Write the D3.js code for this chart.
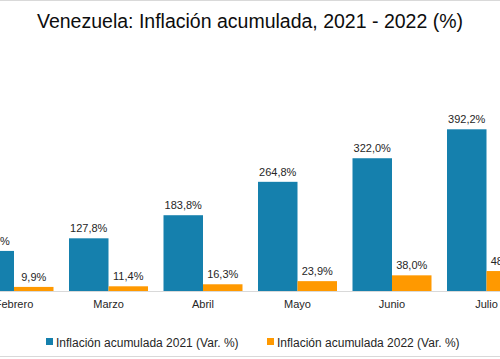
<!DOCTYPE html>
<html>
<head>
<meta charset="utf-8">
<script src="https://cdn.jsdelivr.net/npm/d3@7"></script>
<style>
  html, body { margin: 0; padding: 0; background: #fff; }
  svg { display: block; font-family: "Liberation Sans", Arial, sans-serif; }
</style>
</head>
<body>
<svg id="chart" width="500" height="359"></svg>
<script>
const categories = ["Febrero", "Marzo", "Abril", "Mayo", "Junio", "Julio"];
const series2021 = [97.2, 127.8, 183.8, 264.8, 322.0, 392.2];
const series2022 = [9.9, 11.4, 16.3, 23.9, 38.0, 48.4];
const seriesNames = ["Inflación acumulada 2021 (Var. %)", "Inflación acumulada 2022 (Var. %)"];
const seriesColors = ["#1580ad", "#ff9900"];
const titleText = "Venezuela: Inflación acumulada, 2021 - 2022 (%)";

const svg = d3.select("#chart");
const W = 500, H = 359;

// borders
svg.append("line").attr("x1", 0).attr("x2", W).attr("y1", 0.5).attr("y2", 0.5)
  .attr("stroke", "#d9d9d9").attr("stroke-width", 1);
svg.append("line").attr("x1", 0).attr("x2", W).attr("y1", 356.5).attr("y2", 356.5)
  .attr("stroke", "#d9d9d9").attr("stroke-width", 1);

// title
svg.append("text").attr("x", 250).attr("y", 28).attr("text-anchor", "middle")
  .attr("font-size", 19.5).attr("fill", "#0d0d0d")
  .text(titleText);

const baseY = 291;
const x0 = d3.scaleBand().domain(categories).range([-33.25, 533.75])
  .paddingInner(0.164).paddingOuter(0.082);
const x1 = d3.scaleBand().domain([0, 1]).range([0, x0.bandwidth()]);
const y = d3.scaleLinear().domain([0, 400]).range([baseY, baseY - 400 * 0.4123]);

const data = categories.map((c, i) => ({ cat: c, vals: [series2021[i], series2022[i]] }));
const fmt = v => d3.format(".1f")(v).replace(".", ",") + "%";

const g = svg.append("g");
const groups = g.selectAll("g.grp").data(data).join("g")
  .attr("transform", d => `translate(${x0(d.cat)},0)`);

groups.selectAll("rect").data(d => d.vals.map((v, k) => ({ v, k }))).join("rect")
  .attr("x", d => x1(d.k))
  .attr("width", x1.bandwidth())
  .attr("y", d => y(d.v))
  .attr("height", d => y(0) - y(d.v))
  .attr("fill", d => seriesColors[d.k]);

groups.selectAll("text.lbl").data(d => d.vals.map((v, k) => ({ v, k }))).join("text")
  .attr("class", "lbl")
  .attr("x", d => x1(d.k) + x1.bandwidth() / 2)
  .attr("y", d => y(d.v) - 6)
  .attr("text-anchor", "middle")
  .attr("font-size", 11)
  .attr("fill", "#262626")
  .text(d => fmt(d.v));

// axis
const axis = d3.axisBottom(x0).tickSize(0).tickPadding(9);
const ax = svg.append("g").attr("transform", `translate(0,${baseY})`).call(axis);
ax.select(".domain").remove();
ax.selectAll("text").attr("font-size", 11).attr("fill", "#262626")
  .style("font-family", "Liberation Sans, Arial, sans-serif");
svg.append("line").attr("x1", 0).attr("x2", W).attr("y1", baseY + 0.5).attr("y2", baseY + 0.5)
  .attr("stroke", "#d9d9d9").attr("stroke-width", 1);

// legend
const legX = [46, 267];
const leg = svg.selectAll("g.leg").data(seriesNames).join("g")
  .attr("transform", (d, i) => `translate(${legX[i]},338)`);
leg.append("rect").attr("width", 7).attr("height", 7).attr("fill", (d, i) => seriesColors[i]);
leg.append("text").attr("x", 10).attr("y", 8.5).attr("font-size", 12).attr("fill", "#262626")
  .text(d => d);
</script>
</body>
</html>
